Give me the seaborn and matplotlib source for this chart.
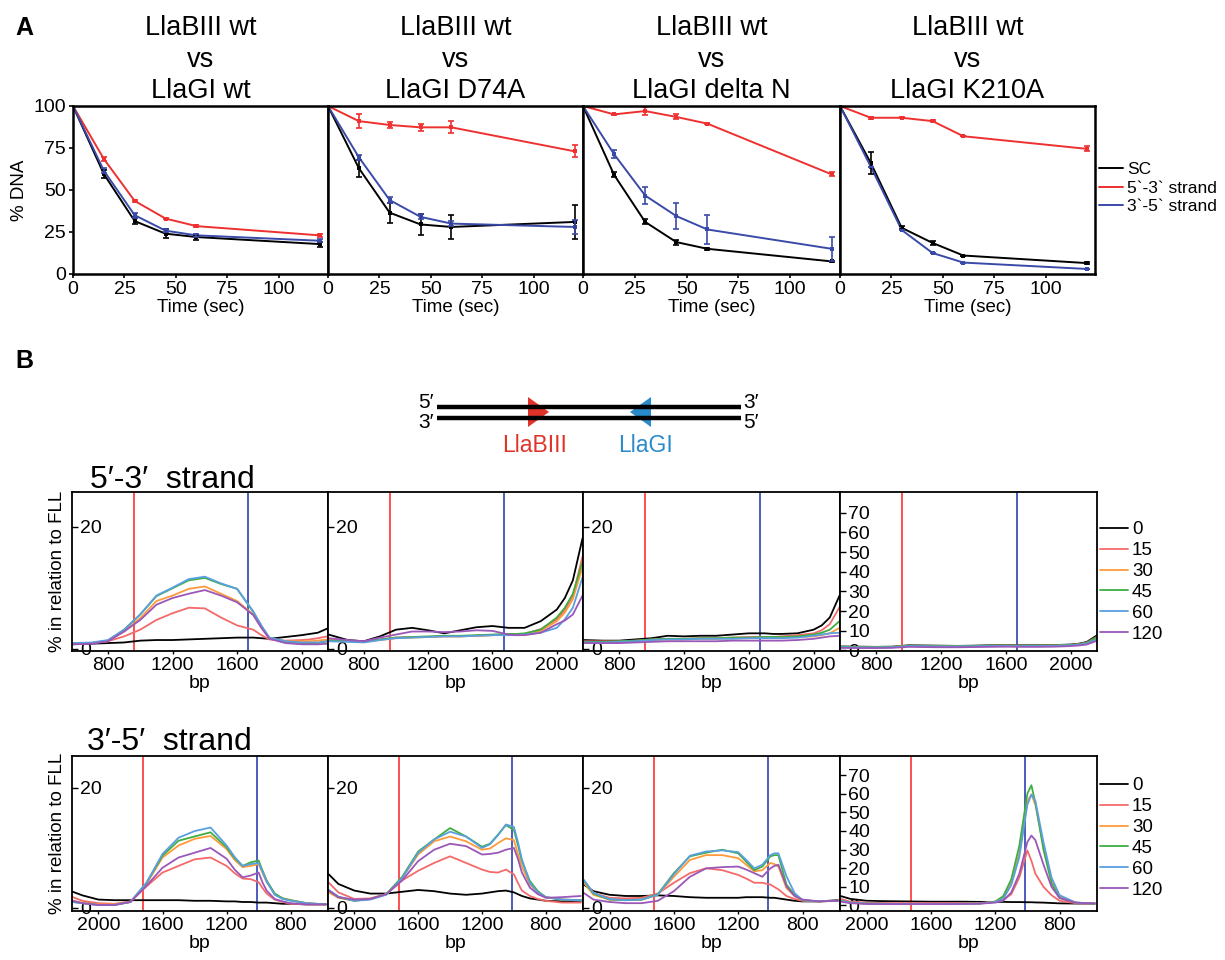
import pandas as pd
import seaborn as sns
import matplotlib.pyplot as plt
from matplotlib.lines import Line2D
from matplotlib.patches import Polygon

# ---------------- panel A data ----------------
TIME_SEC = [0, 15, 30, 45, 60, 120]
A_TITLES = ["LlaBIII wt\nvs\nLlaGI wt", "LlaBIII wt\nvs\nLlaGI D74A",
            "LlaBIII wt\nvs\nLlaGI delta N", "LlaBIII wt\nvs\nLlaGI K210A"]
A_SERIES = ["SC", "5`-3` strand", "3`-5` strand"]

# one row per mutant: wt, D74A, delta N, K210A
SC_MEAN = [[100, 59.5, 31.5, 24.0, 22.0, 17.8],
           [100, 63.0, 36.5, 29.5, 28.0, 31.0],
           [100, 59.0, 31.0, 19.0, 15.0, 7.5],
           [100, 66.0, 27.5, 18.5, 11.0, 6.5]]
SC_ERR = [[0, 2.5, 2.0, 2.5, 1.5, 1.5],
          [0, 5.0, 6.0, 6.0, 7.0, 10.0],
          [0, 1.5, 1.5, 1.5, 0.5, 0.5],
          [0, 6.5, 1.0, 1.2, 0.0, 0.7]]
S53_MEAN = [[100, 68.5, 43.5, 33.0, 28.5, 23.0],
            [100, 91.0, 88.7, 87.3, 87.3, 73.0],
            [100, 95.0, 97.0, 93.5, 89.5, 59.3],
            [100, 93.0, 93.0, 91.0, 82.0, 74.5]]
S53_ERR = [[0, 1.0, 0.5, 0.5, 0.8, 0.8],
           [0, 4.0, 1.5, 2.0, 3.5, 3.5],
           [0, 0.5, 2.5, 1.5, 0.5, 1.2],
           [0, 0.5, 0.3, 0.5, 0.0, 1.5]]
S35_MEAN = [[100, 61.5, 35.0, 25.8, 23.0, 19.8],
            [100, 69.5, 44.0, 34.0, 30.0, 28.0],
            [100, 71.3, 46.7, 34.5, 26.5, 15.0],
            [100, 63.8, 26.2, 12.5, 6.8, 3.0]]
S35_ERR = [[0, 1.5, 1.5, 1.0, 1.0, 1.0],
           [0, 1.5, 2.0, 1.5, 1.5, 4.0],
           [0, 2.5, 5.0, 7.5, 8.5, 7.0],
           [0, 0, 0, 0, 0, 0]]

# ---------------- panel B data ----------------
TIMES = ["0", "15", "30", "45", "60", "120"]
TOP_BP = [580, 700, 800, 900, 1000, 1100, 1200, 1300, 1400, 1500,
          1600, 1700, 1750, 1800, 1900, 2000, 2050, 2100, 2160]
BOT_BP = [2160, 2100, 2000, 1900, 1800, 1700, 1600, 1500, 1400, 1300, 1200,
          1150, 1100, 1050, 1000, 975, 950, 900, 850, 800, 700, 580]
TOP_SITES = [960, 1670]    # LlaBIII, LlaGI
BOT_SITES = [1723, 1013]

# rows: 0, 15, 30, 45, 60, 120 sec
TOP_WT = [[0.7, 0.8, 0.9, 1.0, 1.3, 1.4, 1.4, 1.5, 1.6, 1.7, 1.8, 1.8, 1.7, 1.6, 1.9, 2.2, 2.4, 2.6, 3.3],
          [0.8, 0.9, 1.2, 2.0, 3.1, 4.7, 5.8, 6.7, 6.6, 5.1, 3.8, 3.1, 2.2, 1.5, 1.3, 1.4, 1.5, 1.7, 2.0],
          [0.8, 0.9, 1.3, 2.8, 5.0, 7.8, 8.7, 9.8, 10.2, 9.0, 7.8, 5.6, 3.5, 1.7, 1.2, 1.2, 1.2, 1.3, 1.5],
          [0.8, 0.9, 1.3, 3.1, 5.6, 8.6, 9.9, 11.2, 11.6, 10.6, 9.8, 6.0, 3.7, 1.7, 1.1, 0.9, 0.9, 0.9, 1.2],
          [0.9, 1.0, 1.4, 3.1, 5.6, 8.7, 10.0, 11.4, 11.8, 10.7, 9.8, 6.1, 3.8, 1.8, 1.2, 1.0, 1.0, 1.0, 1.2],
          [0.7, 0.8, 1.2, 2.8, 4.7, 7.2, 8.3, 9.0, 9.6, 8.7, 7.6, 5.5, 3.4, 1.6, 0.9, 0.7, 0.7, 0.7, 0.8]]
TOP_D74A = [[2.3, 1.4, 1.2, 2.0, 3.1, 3.4, 3.0, 2.5, 3.0, 3.5, 3.7, 3.4, 3.4, 3.4, 4.5, 6.4, 8.3, 11.2, 18.1],
            [1.5, 1.2, 1.1, 1.5, 1.8, 1.9, 1.9, 2.0, 2.0, 2.1, 2.2, 2.3, 2.3, 2.4, 3.2, 4.8, 6.3, 8.7, 15.1],
            [1.4, 1.2, 1.1, 1.4, 1.7, 1.8, 1.9, 2.0, 2.0, 2.1, 2.2, 2.3, 2.3, 2.4, 2.9, 4.5, 5.9, 8.1, 13.4],
            [1.3, 1.2, 1.1, 1.5, 1.8, 1.9, 2.0, 2.1, 2.1, 2.2, 2.3, 2.4, 2.4, 2.5, 3.1, 5.1, 6.7, 9.0, 14.2],
            [1.2, 1.1, 1.0, 1.4, 1.7, 1.8, 1.9, 2.0, 2.0, 2.1, 2.2, 2.2, 2.2, 2.3, 2.6, 3.4, 4.8, 6.7, 11.7],
            [1.7, 1.4, 1.2, 1.8, 2.3, 2.8, 2.8, 2.7, 2.8, 3.0, 2.9, 2.3, 2.2, 2.2, 2.6, 4.0, 4.6, 5.6, 8.7]]
TOP_DN = [[1.4, 1.3, 1.3, 1.5, 1.7, 2.1, 2.0, 2.1, 2.1, 2.3, 2.5, 2.5, 2.4, 2.4, 2.5, 3.1, 3.8, 5.1, 8.7],
          [1.2, 1.2, 1.2, 1.3, 1.5, 1.6, 1.6, 1.7, 1.7, 1.8, 1.9, 1.9, 1.9, 2.0, 2.2, 2.5, 3.0, 4.0, 6.8],
          [1.1, 1.1, 1.1, 1.2, 1.4, 1.5, 1.5, 1.6, 1.6, 1.7, 1.7, 1.8, 1.8, 1.8, 1.9, 2.0, 2.2, 2.5, 3.4],
          [1.1, 1.1, 1.2, 1.3, 1.5, 1.6, 1.6, 1.7, 1.7, 1.8, 1.8, 1.9, 1.9, 1.9, 2.0, 2.3, 2.6, 3.1, 4.5],
          [1.0, 1.0, 1.1, 1.2, 1.4, 1.5, 1.5, 1.6, 1.6, 1.6, 1.7, 1.7, 1.7, 1.7, 1.8, 2.1, 2.3, 2.5, 2.6],
          [0.9, 0.9, 0.9, 1.0, 1.1, 1.2, 1.2, 1.2, 1.2, 1.3, 1.3, 1.3, 1.3, 1.3, 1.4, 1.6, 1.8, 2.0, 2.1]]
TOP_K210A = [[2.0, 1.9, 1.8, 1.9, 2.6, 2.5, 2.4, 2.3, 2.4, 2.6, 2.7, 2.6, 2.6, 2.6, 2.7, 3.0, 3.4, 4.3, 7.5],
             [1.8, 1.7, 1.7, 1.8, 2.4, 2.3, 2.2, 2.2, 2.3, 2.4, 2.5, 2.4, 2.4, 2.4, 2.5, 2.8, 3.2, 4.0, 6.8],
             [1.7, 1.6, 1.6, 1.7, 2.3, 2.2, 2.1, 2.1, 2.2, 2.3, 2.4, 2.3, 2.3, 2.3, 2.4, 2.7, 3.0, 3.7, 6.0],
             [1.8, 1.7, 1.7, 1.8, 2.4, 2.3, 2.2, 2.2, 2.3, 2.4, 2.5, 2.4, 2.4, 2.4, 2.5, 2.8, 3.1, 3.9, 6.5],
             [1.6, 1.5, 1.5, 1.6, 2.2, 2.1, 2.0, 2.0, 2.1, 2.2, 2.3, 2.2, 2.2, 2.2, 2.3, 2.6, 2.9, 3.5, 5.5],
             [1.3, 1.2, 1.2, 1.3, 1.8, 1.7, 1.6, 1.6, 1.7, 1.8, 1.9, 1.8, 1.8, 1.8, 1.9, 2.2, 2.5, 3.0, 4.8]]

BOT_WT = [[2.7, 2.1, 1.4, 1.3, 1.3, 1.3, 1.3, 1.3, 1.2, 1.2, 1.1, 1.1, 1.0, 1.0, 0.9, 0.9, 0.9, 0.8, 0.7, 0.7, 0.6, 0.6],
          [1.8, 1.2, 0.8, 0.7, 1.1, 3.6, 5.9, 7.0, 8.1, 8.4, 7.0, 5.8, 4.9, 4.8, 4.3, 3.3, 2.4, 1.4, 1.0, 0.7, 0.6, 0.6],
          [1.2, 0.9, 0.6, 0.6, 1.0, 4.0, 8.4, 10.4, 11.5, 12.0, 9.8, 8.0, 6.8, 7.0, 7.3, 5.8, 4.3, 2.4, 1.6, 1.3, 0.8, 0.6],
          [1.0, 0.8, 0.5, 0.5, 1.0, 4.2, 8.7, 11.2, 11.9, 12.6, 10.1, 8.3, 7.0, 7.6, 7.9, 6.2, 4.6, 2.4, 1.6, 1.3, 0.8, 0.6],
          [1.0, 0.8, 0.5, 0.5, 1.0, 4.2, 9.0, 11.7, 12.8, 13.4, 10.4, 8.5, 7.0, 7.3, 7.5, 6.0, 4.4, 2.2, 1.5, 1.2, 0.8, 0.6],
          [1.2, 0.8, 0.5, 0.5, 1.0, 3.7, 6.7, 8.4, 9.2, 10.0, 8.2, 6.4, 5.1, 5.4, 5.9, 4.2, 2.9, 1.5, 1.1, 0.8, 0.6, 0.6]]
BOT_D74A = [[5.6, 4.0, 2.9, 2.4, 2.4, 2.7, 3.0, 2.8, 2.4, 2.2, 2.4, 2.6, 2.8, 2.9, 2.6, 2.3, 2.0, 1.6, 1.4, 1.2, 1.1, 1.2],
            [4.2, 2.6, 1.5, 1.6, 2.3, 4.6, 6.2, 7.5, 8.6, 7.5, 6.4, 6.0, 5.9, 6.4, 5.6, 4.2, 2.9, 2.0, 1.5, 1.2, 0.9, 0.9],
            [2.6, 1.7, 1.2, 1.5, 2.3, 5.0, 8.9, 11.1, 11.9, 11.1, 9.7, 9.9, 10.8, 11.6, 11.3, 9.0, 6.9, 3.9, 2.6, 1.8, 1.4, 1.3],
            [2.9, 1.8, 1.2, 1.5, 2.3, 5.2, 9.4, 11.4, 13.3, 11.9, 10.2, 10.7, 12.2, 13.8, 13.0, 10.5, 7.8, 4.5, 2.8, 1.8, 1.4, 1.3],
            [3.0, 1.9, 1.2, 1.4, 2.2, 5.0, 9.2, 11.4, 12.7, 11.9, 10.0, 10.6, 12.1, 13.9, 13.5, 11.0, 8.1, 4.2, 2.6, 1.8, 1.4, 1.3],
            [2.9, 1.8, 1.4, 1.5, 2.3, 4.6, 7.8, 9.7, 10.7, 10.3, 8.9, 9.0, 9.2, 9.7, 10.0, 8.2, 5.9, 3.4, 2.3, 1.7, 1.8, 2.0]]
BOT_DN = [[3.9, 2.8, 2.2, 2.0, 2.0, 2.1, 2.0, 1.8, 1.7, 1.7, 1.7, 1.8, 1.8, 1.8, 1.7, 1.7, 1.6, 1.4, 1.2, 1.1, 1.1, 1.3],
          [4.4, 2.5, 1.7, 1.6, 1.7, 2.4, 4.2, 5.8, 6.6, 6.3, 5.5, 4.9, 4.2, 4.2, 3.9, 3.5, 3.1, 2.0, 1.5, 1.2, 1.1, 1.2],
          [4.2, 2.2, 1.4, 1.3, 1.4, 2.2, 5.2, 8.0, 8.8, 8.8, 8.3, 7.2, 6.1, 6.3, 7.5, 7.3, 6.9, 3.3, 2.0, 1.3, 1.1, 1.2],
          [4.6, 2.4, 1.4, 1.3, 1.4, 2.3, 5.8, 8.6, 9.2, 9.7, 9.1, 7.7, 6.3, 6.9, 8.6, 8.8, 8.8, 3.9, 2.2, 1.3, 1.1, 1.2],
          [4.7, 2.5, 1.5, 1.3, 1.4, 2.2, 5.6, 8.7, 9.4, 9.6, 9.3, 8.0, 6.6, 7.2, 8.8, 9.1, 9.1, 5.3, 2.5, 1.3, 1.1, 1.2],
          [2.5, 1.4, 1.0, 0.8, 0.8, 1.2, 2.8, 5.2, 6.6, 6.8, 6.9, 6.4, 5.8, 5.2, 6.6, 7.0, 7.2, 3.6, 2.0, 1.4, 1.1, 1.2]]
BOT_K210A = [[5.0, 3.5, 2.5, 2.3, 2.2, 2.1, 2.0, 2.0, 2.0, 1.9, 1.9, 1.9, 1.8, 1.8, 1.7, 1.7, 1.6, 1.5, 1.3, 1.1, 1.0, 1.0],
             [3.5, 2.0, 1.5, 1.3, 1.2, 1.2, 1.2, 1.2, 1.2, 1.3, 2.0, 3.0, 6.0, 15.0, 29.5, 24.0, 17.0, 10.0, 5.5, 2.5, 1.2, 1.0],
             [2.5, 1.5, 1.0, 0.9, 0.8, 0.8, 0.8, 0.8, 0.9, 1.0, 2.0, 4.0, 12.0, 28.0, 56.0, 59.5, 54.0, 32.0, 14.0, 5.0, 1.5, 1.0],
             [2.5, 1.5, 1.0, 0.9, 0.8, 0.8, 0.8, 0.8, 0.9, 1.0, 2.0, 5.0, 14.0, 32.0, 60.0, 64.5, 55.0, 30.0, 12.0, 4.0, 1.5, 1.0],
             [2.5, 1.5, 1.0, 0.9, 0.8, 0.8, 0.8, 0.8, 0.9, 1.0, 1.8, 3.5, 11.0, 26.0, 54.0, 59.5, 56.0, 34.0, 15.0, 5.5, 1.5, 1.0],
             [2.0, 1.2, 0.8, 0.7, 0.7, 0.7, 0.7, 0.7, 0.8, 0.9, 1.5, 2.5, 7.0, 17.0, 34.0, 37.5, 35.0, 22.0, 10.0, 4.0, 1.5, 1.0]]

A_COLORS = ["black", "#ee3030", "#3a4aa8"]
TIME_COLORS = ["black", "#f46a6a", "#ff9a3a", "#3fae3f", "#5a9fe0", "#9b57b8"]
SITE_COLORS = ["#ff4040", "#3f4fb5"]

sns.set_theme(style="ticks")
plt.rcParams['font.family'] = ['Liberation Sans', 'DejaVu Sans']
for key in ['axes.edgecolor', 'xtick.color', 'ytick.color', 'text.color', 'axes.labelcolor']:
    plt.rcParams[key] = 'black'

W, H = 1225, 960
fig = plt.figure(figsize=(W / 100, H / 100), dpi=100)


def box(l, t, r, b):
    return [l / W, 1 - b / H, (r - l) / W, (b - t) / H]


# ---------------- panel A ----------------
a_left = [73, 328, 583, 840]
a_right = [328, 583, 840, 1095]
for i in range(4):
    ax = fig.add_axes(box(a_left[i], 106, a_right[i], 274))
    means = [SC_MEAN[i], S53_MEAN[i], S35_MEAN[i]]
    errs = [SC_ERR[i], S53_ERR[i], S35_ERR[i]]
    df = pd.DataFrame([{"time": t, "pct": v, "series": name}
                       for name, m in zip(A_SERIES, means)
                       for t, v in zip(TIME_SEC, m)])
    sns.lineplot(data=df, x="time", y="pct", hue="series", hue_order=A_SERIES,
                 palette=A_COLORS, marker="s", markersize=3.5, markeredgewidth=0,
                 linewidth=1.4, errorbar=None, legend=False, ax=ax)
    for m, e, c in zip(means, errs, A_COLORS):
        ax.errorbar(TIME_SEC, m, yerr=e, fmt="none", ecolor=c,
                    elinewidth=1.2, capsize=2.5, capthick=1.2)
    ax.set_xlim(0, 124)
    ax.set_ylim(0, 100)
    ax.set_xticks([0, 25, 50, 75, 100])
    ax.set_yticks([0, 25, 50, 75, 100])
    ax.tick_params(labelsize=14, length=3, width=1.2, pad=2)
    ax.set_xlabel("Time (sec)", fontsize=13.5, labelpad=1)
    if i == 0:
        ax.set_ylabel("% DNA", fontsize=13.5, labelpad=4)
    else:
        ax.set_ylabel("")
        ax.tick_params(axis="y", left=False, labelleft=False)
    for s in ax.spines.values():
        s.set_linewidth(1.8)
        s.set_visible(True)

fig.legend(handles=[Line2D([], [], color=c, lw=1.4) for c in A_COLORS],
           labels=A_SERIES, loc="center left", bbox_to_anchor=(1099 / W, 1 - 188 / H),
           frameon=False, fontsize=12.5, handlelength=1.4, handletextpad=0.2,
           labelspacing=0.2, borderaxespad=0, borderpad=0)


# ---------------- panel B ----------------
def strand_panel(ax, bp, values, sites, xlim, ylim, yticks, first):
    df = pd.DataFrame([{"bp": x, "val": v, "time": t}
                       for t, row in zip(TIMES, values)
                       for x, v in zip(bp, row)])
    for s, c in zip(sites, SITE_COLORS):
        ax.axvline(s, color=c, lw=1.3, zorder=1)
    sns.lineplot(data=df, x="bp", y="val", hue="time", hue_order=TIMES,
                 palette=TIME_COLORS, linewidth=1.3, errorbar=None,
                 legend=False, sort=False, ax=ax, zorder=2)
    ax.set_xlim(*xlim)
    ax.set_ylim(*ylim)
    ax.set_xticks([800, 1200, 1600, 2000])
    ax.set_yticks(yticks)
    ax.tick_params(axis="x", labelsize=14, length=2, width=1, pad=2)
    ax.tick_params(axis="y", labelsize=14, direction="in", length=4, width=1, pad=-6)
    for lbl in ax.get_yticklabels():
        lbl.set_horizontalalignment("left")
    ax.set_xlabel("bp", fontsize=14, labelpad=1)
    if first:
        ax.set_ylabel("% in relation to FLL", fontsize=13.5, labelpad=4)
    else:
        ax.set_ylabel("")
    for s in ax.spines.values():
        s.set_linewidth(1.3)
        s.set_visible(True)


b_left = [72, 328, 583, 840]
b_right = [328, 583, 840, 1097]
top_sets = [TOP_WT, TOP_D74A, TOP_DN, TOP_K210A]
bot_sets = [BOT_WT, BOT_D74A, BOT_DN, BOT_K210A]
for i in range(4):
    big = i == 3
    ax = fig.add_axes(box(b_left[i], 492, b_right[i], 651))
    strand_panel(ax, TOP_BP, top_sets[i], TOP_SITES, (577, 2163),
                 (-0.3, 80.5) if big else (-0.4, 25.7),
                 list(range(0, 80, 10)) if big else [0, 20], i == 0)
    ax = fig.add_axes(box(b_left[i], 756, b_right[i], 911))
    strand_panel(ax, BOT_BP, bot_sets[i], BOT_SITES, (2165, 567),
                 (-3.0, 80.2) if big else (-0.5, 25.3),
                 list(range(0, 80, 10)) if big else [0, 20], i == 0)

for yc in (582, 838):
    fig.legend(handles=[Line2D([], [], color=c, lw=1.3) for c in TIME_COLORS],
               labels=TIMES, loc="center left", bbox_to_anchor=(1100 / W, 1 - yc / H),
               frameon=False, fontsize=13.5, handlelength=1.5, handletextpad=0.2,
               labelspacing=0.2, borderaxespad=0, borderpad=0)

# ---------------- overlay: titles, letters, schematic ----------------
ov = fig.add_axes([0, 0, 1, 1])
ov.set_xlim(0, W)
ov.set_ylim(H, 0)
ov.axis("off")
ov.patch.set_alpha(0)

ov.text(24, 28, "A", fontsize=18, fontweight="bold", ha="center", va="center")
ov.text(24, 361, "B", fontsize=18, fontweight="bold", ha="center", va="center")
for i, t in enumerate(A_TITLES):
    ov.text((a_left[i] + a_right[i]) / 2, 104, t, fontsize=19.5, ha="center",
            va="bottom", linespacing=1.27)

ov.text(90, 488, "5\u2032-3\u2032  strand", fontsize=23, ha="left", va="baseline")
ov.text(87, 750, "3\u2032-5\u2032  strand", fontsize=23, ha="left", va="baseline")

# DNA schematic
ov.plot([437, 741], [407, 407], color="black", lw=3.2, solid_capstyle="butt")
ov.plot([437, 741], [418, 418], color="black", lw=3.2, solid_capstyle="butt")
ov.add_patch(Polygon([[528, 397], [528, 427], [549, 412]], closed=True,
                     color="#e2332a", lw=0))
ov.add_patch(Polygon([[651, 397], [651, 427], [630, 412]], closed=True,
                     color="#2a8bcb", lw=0))
ov.text(434, 402, "5\u2032", fontsize=15, ha="right", va="center")
ov.text(434, 423, "3\u2032", fontsize=15, ha="right", va="center")
ov.text(743, 402, "3\u2032", fontsize=15, ha="left", va="center")
ov.text(743, 423, "5\u2032", fontsize=15, ha="left", va="center")
ov.text(535, 445, "LlaBIII", fontsize=16.5, color="#e2332a", ha="center", va="center")
ov.text(646, 445, "LlaGI", fontsize=16.5, color="#2a8bcb", ha="center", va="center")

fig.savefig("out.png", dpi=100)
